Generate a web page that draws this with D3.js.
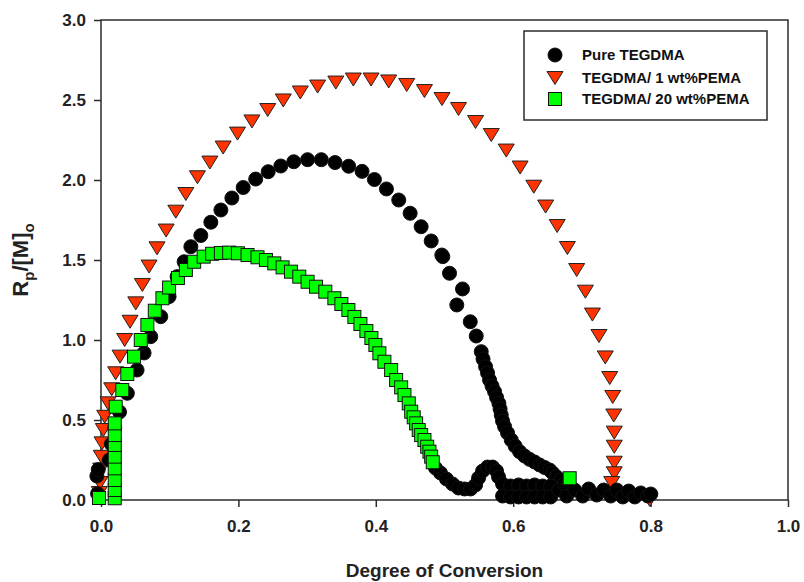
<!DOCTYPE html>
<html>
<head>
<meta charset="utf-8">
<script src="https://cdn.jsdelivr.net/npm/d3@7"></script>
<style>
  body { margin: 0; background: #fff; }
  svg { display: block; }
  text { font-family: Arial, "Liberation Sans", sans-serif; }
</style>
</head>
<body>
<svg id="chart" width="804" height="582"></svg>
<script>
// series values [degree of conversion, Rp/[M]o]
const pureTegdma = [
  [-0.005, 0.04], [-0.006, 0.15], [-0.004, 0.19], [0.012, 0.25], [0.015, 0.35], [0.02, 0.45], [0.027, 0.55],
  [0.0383, 0.667], [0.0525, 0.8125], [0.0627, 0.919], [0.0724, 1.021], [0.087, 1.146], [0.0991, 1.271],
  [0.1108, 1.396], [0.121, 1.489], [0.1308, 1.583], [0.1453, 1.653], [0.1599, 1.736], [0.1745, 1.8125],
  [0.1905, 1.8875], [0.207, 1.953], [0.2252, 2.006], [0.2434, 2.052], [0.2617, 2.0875], [0.2806, 2.114],
  [0.3007, 2.127], [0.3207, 2.127], [0.3407, 2.109], [0.3605, 2.086], [0.38, 2.054], [0.398, 2.003],
  [0.4155, 1.944], [0.4334, 1.875], [0.45, 1.792], [0.466, 1.708], [0.4806, 1.619], [0.4961, 1.531],
  [0.4975, 1.521], [0.5073, 1.417], [0.5262, 1.319], [0.5179, 1.219], [0.5375, 1.114], [0.5462, 1.025],
  [0.5535, 0.927], [0.5561, 0.881], [0.5598, 0.833], [0.5627, 0.794], [0.5656, 0.75], [0.5692, 0.7125],
  [0.5729, 0.677], [0.5758, 0.641], [0.5792, 0.604], [0.5809, 0.569], [0.5826, 0.531], [0.5845, 0.494],
  [0.5875, 0.458], [0.5918, 0.419], [0.5972, 0.375], [0.6028, 0.3375], [0.6093, 0.302], [0.6166, 0.275],
  [0.6239, 0.254], [0.6312, 0.2375], [0.6385, 0.219], [0.6458, 0.203], [0.6531, 0.1875], [0.6574, 0.169],
  [0.6628, 0.146], [0.6691, 0.125],
  [0.4869, 0.2], [0.4942, 0.169], [0.5029, 0.131], [0.5117, 0.1], [0.5204, 0.075], [0.5292, 0.069],
  [0.5379, 0.069], [0.5452, 0.094], [0.5496, 0.1375], [0.5554, 0.181], [0.5627, 0.206], [0.57, 0.206],
  [0.5758, 0.181], [0.5787, 0.144],
  [0.5845, 0.1], [0.5845, 0.025], [0.5962, 0.0875], [0.5962, 0.019], [0.6079, 0.094], [0.6079, 0.019],
  [0.6195, 0.0875], [0.6195, 0.019], [0.6312, 0.094], [0.6312, 0.019], [0.6429, 0.0875], [0.6429, 0.019],
  [0.6545, 0.0875], [0.6545, 0.019],
  [0.6662, 0.0625], [0.675, 0.1], [0.6778, 0.025], [0.6895, 0.0625], [0.7012, 0.025], [0.7099, 0.069],
  [0.7216, 0.031], [0.7318, 0.0625], [0.742, 0.025], [0.7507, 0.0625], [0.7595, 0.019], [0.7682, 0.056],
  [0.777, 0.019], [0.7857, 0.044], [0.7959, 0.025], [0.8003, 0.0375]
];

const pema1 = [
  [-0.0025, 0.044], [-0.0015, 0.106], [-0.0004, 0.19], [0.0004, 0.27], [0.0015, 0.354], [0.0034, 0.4375],
  [0.0054, 0.52], [0.0102, 0.604], [0.0156, 0.692], [0.0214, 0.792], [0.0277, 0.896], [0.0345, 1.0],
  [0.0423, 1.114], [0.0506, 1.229], [0.0602, 1.344], [0.07, 1.459], [0.0816, 1.573], [0.0948, 1.684],
  [0.1089, 1.802], [0.1235, 1.9125], [0.1404, 2.017], [0.1585, 2.109], [0.1778, 2.203], [0.1987, 2.29],
  [0.2197, 2.366], [0.2427, 2.4375], [0.2653, 2.497], [0.2901, 2.547], [0.3153, 2.584], [0.3418, 2.609],
  [0.3673, 2.628], [0.3931, 2.628], [0.4188, 2.616], [0.445, 2.594], [0.4708, 2.556], [0.4964, 2.506],
  [0.5204, 2.444], [0.5452, 2.3625], [0.5681, 2.281], [0.5899, 2.184], [0.6101, 2.078], [0.63, 1.958],
  [0.6472, 1.834], [0.664, 1.7125], [0.6789, 1.575], [0.6924, 1.4375], [0.7051, 1.302], [0.7153, 1.159],
  [0.7248, 1.025], [0.734, 0.891], [0.7405, 0.7625], [0.7449, 0.644], [0.7464, 0.528], [0.7471, 0.421],
  [0.7471, 0.333], [0.7471, 0.233], [0.7471, 0.167], [0.7434, 0.106], [0.7988, 0.0]
];

const pema20 = [
  [-0.0029, 0.0125], [0.02, 0.011], [0.02, 0.0625], [0.02, 0.125], [0.02, 0.198], [0.02, 0.271],
  [0.02, 0.344], [0.02, 0.406], [0.02, 0.479], [0.0214, 0.583], [0.031, 0.6875], [0.0383, 0.7875],
  [0.0481, 0.896], [0.0579, 1.0], [0.0675, 1.094], [0.0783, 1.183], [0.0894, 1.261], [0.0991, 1.328],
  [0.112, 1.3875], [0.1235, 1.4375], [0.1356, 1.489], [0.1494, 1.521], [0.1618, 1.539], [0.1745, 1.544],
  [0.1866, 1.546], [0.1993, 1.542], [0.2133, 1.531], [0.2278, 1.517], [0.2401, 1.5], [0.2522, 1.479],
  [0.2643, 1.454], [0.2765, 1.427], [0.2886, 1.396], [0.3007, 1.364], [0.313, 1.333], [0.3265, 1.302],
  [0.3397, 1.261], [0.3499, 1.225], [0.3601, 1.1875], [0.3688, 1.144], [0.3776, 1.1], [0.3863, 1.056],
  [0.3936, 1.0125], [0.3994, 0.969], [0.4052, 0.917], [0.4125, 0.864], [0.4223, 0.8125], [0.4296, 0.75],
  [0.4369, 0.704], [0.4417, 0.656], [0.448, 0.604], [0.4515, 0.552], [0.4552, 0.517], [0.4587, 0.479],
  [0.4625, 0.4375], [0.466, 0.406], [0.4708, 0.375], [0.4748, 0.333], [0.4781, 0.302], [0.4806, 0.271],
  [0.4829, 0.236], [0.6822, 0.136]
];

const seriesNames = ['Pure TEGDMA', 'TEGDMA/ 1 wt%PEMA', 'TEGDMA/ 20 wt%PEMA'];
const xTicks = [0, 0.2, 0.4, 0.6, 0.8, 1.0];
const yTicks = [0, 0.5, 1.0, 1.5, 2.0, 2.5, 3.0];

const svg = d3.select('#chart');
const x = d3.scaleLinear().domain([0, 1]).range([101, 788]);
const y = d3.scaleLinear().domain([0, 3]).range([500, 20]);

const axisColor = '#2b2b2b';
const red = '#ff3300';
const green = '#00ff00';

// axes with outward ticks
const gy = svg.append('g')
  .attr('transform', `translate(${x(0)},0)`)
  .call(d3.axisLeft(y).tickValues(yTicks).tickFormat(d3.format('.1f')).tickSize(7).tickPadding(8));
const gx = svg.append('g')
  .attr('transform', `translate(0,${y(0)})`)
  .call(d3.axisBottom(x).tickValues(xTicks).tickFormat(d3.format('.1f')).tickSize(7).tickPadding(13));

[gx, gy].forEach(g => {
  g.select('.domain').remove();
  g.selectAll('.tick line').attr('stroke', axisColor).attr('stroke-width', 1.5);
  g.selectAll('.tick text')
    .attr('fill', '#222')
    .style('font-size', '17px')
    .style('font-weight', 'bold');
});

// frame
svg.append('rect')
  .attr('x', x(0)).attr('y', y(3))
  .attr('width', x(1) - x(0)).attr('height', y(0) - y(3))
  .attr('fill', 'none')
  .attr('stroke', axisColor)
  .attr('stroke-width', 1.5);

// axis titles
svg.append('text')
  .attr('x', (x(0) + x(1)) / 2)
  .attr('y', 577)
  .attr('text-anchor', 'middle')
  .attr('fill', '#222')
  .style('font-size', '19px')
  .style('font-weight', 'bold')
  .text('Degree of Conversion');

const yTitle = svg.append('text')
  .attr('transform', `translate(28,${(y(0) + y(3)) / 2}) rotate(-90)`)
  .attr('text-anchor', 'middle')
  .attr('fill', '#222')
  .style('font-size', '22px')
  .style('font-weight', 'bold');
yTitle.append('tspan').text('R');
yTitle.append('tspan').attr('dy', 6).style('font-size', '15px').text('p');
yTitle.append('tspan').attr('dy', -6).text('/[M]');
yTitle.append('tspan').attr('dy', 6).style('font-size', '15px').text('o');

// marker shapes
const triDown = 'M-8,-6.5L8,-6.5L0,6.5Z';

function drawTriangles(g, data) {
  g.selectAll('path').data(data).join('path')
    .attr('d', triDown)
    .attr('transform', d => `translate(${x(d[0])},${y(d[1])})`)
    .attr('fill', red)
    .attr('stroke', '#222')
    .attr('stroke-width', 1);
}

function drawCircles(g, data) {
  g.selectAll('circle').data(data).join('circle')
    .attr('cx', d => x(d[0]))
    .attr('cy', d => y(d[1]))
    .attr('r', 7)
    .attr('fill', '#000')
    .attr('stroke', '#111')
    .attr('stroke-width', 1);
}

function drawSquares(g, data) {
  g.selectAll('rect').data(data).join('rect')
    .attr('x', d => x(d[0]) - 6.5)
    .attr('y', d => y(d[1]) - 6.5)
    .attr('width', 13)
    .attr('height', 13)
    .attr('fill', green)
    .attr('stroke', '#111')
    .attr('stroke-width', 1);
}

drawTriangles(svg.append('g'), pema1);
drawCircles(svg.append('g'), pureTegdma);
drawSquares(svg.append('g'), pema20);

// legend
const legend = svg.append('g');
legend.append('rect')
  .attr('x', 524).attr('y', 31)
  .attr('width', 243).attr('height', 89)
  .attr('fill', '#fff')
  .attr('stroke', axisColor)
  .attr('stroke-width', 1.5);

const rows = [55, 78, 99];
drawCircles(legend.append('g'), [[x.invert(555), y.invert(rows[0])]]);
drawTriangles(legend.append('g'), [[x.invert(555), y.invert(rows[1])]]);
drawSquares(legend.append('g'), [[x.invert(555), y.invert(rows[2])]]);

legend.selectAll('text.lab').data(seriesNames).join('text')
  .attr('class', 'lab')
  .attr('x', 582)
  .attr('y', (d, i) => rows[i] + 5)
  .attr('fill', '#111')
  .style('font-size', '15px')
  .style('font-weight', '600')
  .text(d => d);
</script>
</body>
</html>
